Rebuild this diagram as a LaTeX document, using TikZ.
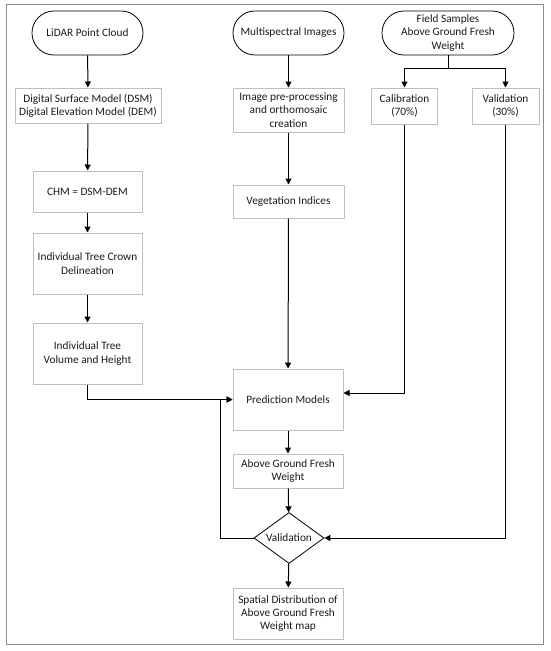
\documentclass[tikz,border=0pt]{standalone}
\usepackage{fontspec}
\setmainfont{Carlito}
\usetikzlibrary{shapes.geometric,arrows.meta}
\definecolor{boxgray}{HTML}{BFBFBF}
\definecolor{framegray}{HTML}{8C8C8C}
\definecolor{txt}{HTML}{1A1A1A}
\begin{document}
\begin{tikzpicture}[x=1pt,y=-1pt,
  every node/.style={font=\fontsize{11.3}{13.3}\selectfont, text=txt, align=center, inner sep=0pt},
  box/.style={draw=boxgray, line width=1pt, rectangle},
  term/.style={draw=black, line width=0.8pt, rectangle, rounded corners=21.9pt, minimum height=44pt},
  decide/.style={draw=black, line width=0.8pt, diamond, aspect=1.37, minimum width=70pt, minimum height=51pt},
  conn/.style={draw=black, line width=1pt, -{Triangle[length=6pt,width=6pt]}},
  plain/.style={draw=black, line width=1pt}]
\useasboundingbox (0,0) rectangle (550,651);
\draw[framegray, line width=1pt] (6,4) rectangle (543,644);

% terminals
\node[term, minimum width=111pt] (lidar) at (87.5,33) {LiDAR Point Cloud};
\node[term, minimum width=111pt] (ms) at (288.5,33) {Multispectral Images};
\node[term, minimum width=132pt] (fs) at (448,33) {Field Samples\\Above Ground Fresh\\Weight};

% left column
\node[box, minimum width=146pt, minimum height=35pt] (dsm) at (88,105.5) {Digital Surface Model (DSM)\\Digital Elevation Model (DEM)};
\node[box, minimum width=109pt, minimum height=41pt] (chm) at (87.5,191.5) {CHM = DSM-DEM};
\node[box, minimum width=109pt, minimum height=61pt] (itcd) at (87.5,263.5) {Individual Tree Crown\\Delineation};
\node[box, minimum width=109pt, minimum height=61pt] (itvh) at (87.5,353.5) {Individual Tree\\Volume and Height};

% middle column
\node[box, minimum width=111pt, minimum height=44pt] (ip) at (288.5,110) {Image pre-processing\\and orthomosaic\\creation};
\node[box, minimum width=111pt, minimum height=33pt] (vi) at (288.5,201.5) {Vegetation Indices};
\node[box, minimum width=110pt, minimum height=61pt] (pm) at (288,399.5) {Prediction Models};
\node[box, minimum width=110pt, minimum height=34pt] (agfw) at (288,471) {Above Ground Fresh\\Weight};
\node[decide] (val) at (289,538) {Validation};
\node[box, minimum width=110pt, minimum height=51pt] (sd) at (288,613.5) {Spatial Distribution of\\Above Ground Fresh\\Weight map};

% right columns
\node[box, minimum width=66pt, minimum height=36pt] (cal) at (404.5,106) {Calibration\\(70\%)};
\node[box, minimum width=67pt, minimum height=36pt] (valb) at (505.5,106) {Validation\\(30\%)};

% connectors
\draw[conn] (lidar) -- (dsm);
\draw[conn] (dsm) -- (chm);
\draw[conn] (chm) -- (itcd);
\draw[conn] (itcd) -- (itvh);
\draw[conn] (itvh.south) |- (pm.west);
\draw[conn] (val.west) -- ++(-33,0) |- (pm.west);

\draw[conn] (ms) -- (ip);
\draw[conn] (ip) -- (vi);
\draw[conn] (vi) -- (pm);
\draw[conn] (pm) -- (agfw);
\draw[conn] (agfw) -- (val);
\draw[conn] (val) -- (sd);

\coordinate (split) at ([yshift=-13pt]fs.south);
\draw[plain] (fs.south) -- (split);
\draw[conn] (split) -| (cal.north);
\draw[conn] (split) -| (valb.north);
\draw[conn] (cal.south) |- ([yshift=6.5pt]pm.east);
\draw[conn] (valb.south) |- (val.east);
\end{tikzpicture}
\end{document}
